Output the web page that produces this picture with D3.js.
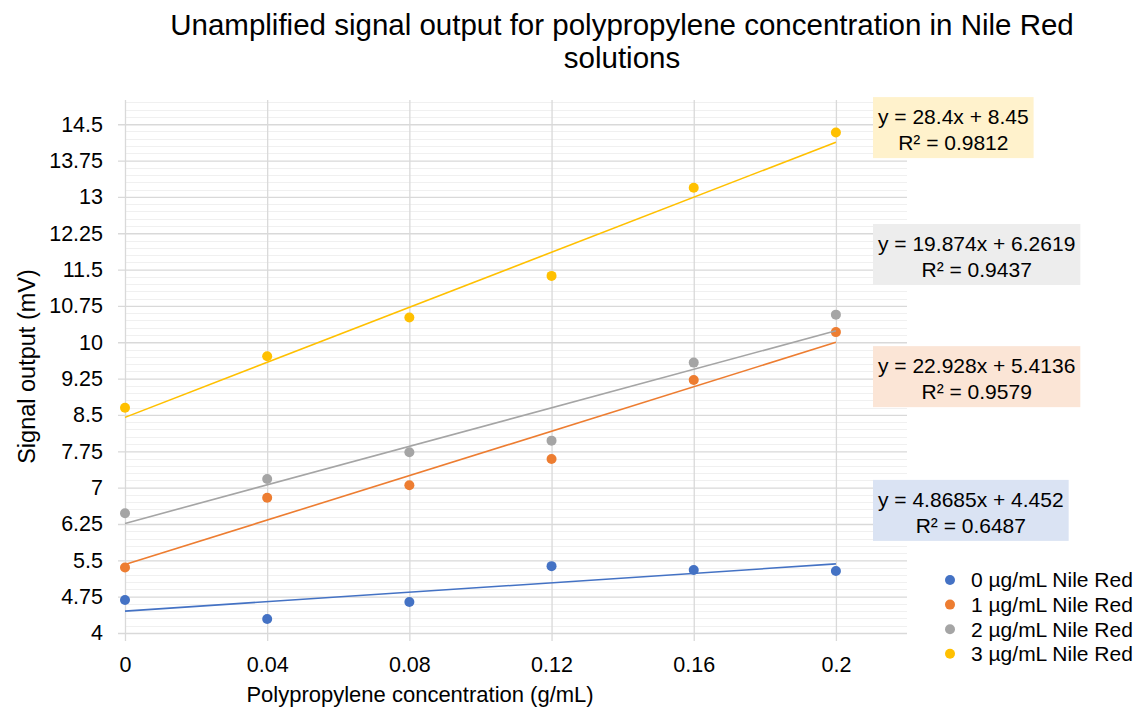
<!DOCTYPE html>
<html>
<head>
<meta charset="utf-8">
<script src="https://cdn.jsdelivr.net/npm/d3@7"></script>
<style>
  body { margin: 0; background: #fff; }
  svg { font-family: 'Liberation Sans', Arial, Helvetica, sans-serif; }
</style>
</head>
<body>
<div id="chart"></div>
<script>
// data
const concentrations = [0, 0.04, 0.08, 0.12, 0.16, 0.2]
const seriesNames = ['0 µg/mL Nile Red', '1 µg/mL Nile Red', '2 µg/mL Nile Red', '3 µg/mL Nile Red']
const nile0 = [4.68, 4.29, 4.64, 5.38, 5.30, 5.28]
const nile1 = [5.35, 6.79, 7.05, 7.59, 9.22, 10.21]
const nile2 = [6.47, 7.18, 7.73, 7.97, 9.58, 10.57]
const nile3 = [8.65, 9.71, 10.51, 11.37, 13.19, 14.33]
const slopes = [4.8685, 22.928, 19.874, 28.4]
const intercepts = [4.452, 5.4136, 6.2619, 8.45]
const eqText = ['y = 4.8685x + 4.452', 'y = 22.928x + 5.4136', 'y = 19.874x + 6.2619', 'y = 28.4x + 8.45']
const r2Text = ['R² = 0.6487', 'R² = 0.9579', 'R² = 0.9437', 'R² = 0.9812']
const yTicks = [4, 4.75, 5.5, 6.25, 7, 7.75, 8.5, 9.25, 10, 10.75, 11.5, 12.25, 13, 13.75, 14.5]
const xTicks = [0, 0.04, 0.08, 0.12, 0.16, 0.2]

const colors = ['#4472C4', '#ED7D31', '#A5A5A5', '#FFC000']
const boxFills = ['#DAE3F3', '#FBE5D6', '#EDEDED', '#FFF2CC']
// top edge of each equation label, in signal units
const labelTop = [7.16, 9.92, 12.44, 15.06]

const W = 1141
const H = 713
const margin = { left: 125, right: 234, top: 100, bottom: 80 }
const gridWidth = W - margin.left - margin.right
const gridHeight = H - margin.top - margin.bottom

const svg = d3.select('#chart')
  .append('svg')
  .attr('width', W)
  .attr('height', H)

const x = d3.scaleLinear().domain([0, 0.22]).range([0, gridWidth])
const y = d3.scaleLinear().domain([4, 15]).range([gridHeight, 0])

const g = svg.append('g').attr('transform', `translate(${margin.left}, ${margin.top})`)

// minor gridlines
const minor = d3.range(4.15, 15.001, 0.15).filter(v => Math.abs((v - 4) / 0.75 - Math.round((v - 4) / 0.75)) > 0.01)
g.append('g').selectAll('line').data(minor).enter()
  .append('line')
  .attr('x1', 0).attr('x2', gridWidth)
  .attr('y1', d => Math.round(y(d)) + 0.5).attr('y2', d => Math.round(y(d)) + 0.5)
  .style('stroke', '#F0F0F0')
  .style('stroke-width', 1)

// major horizontal grid with ticks on the left
const yAxis = d3.axisLeft(y).tickValues(yTicks).tickSize(-gridWidth - 7).tickPadding(14)
  .tickFormat(d => d3.format('')(d))
const yAxisg = g.append('g').attr('transform', 'translate(-7, 0)').call(yAxis)
yAxisg.select('.domain').remove()
yAxisg.selectAll('.tick line').style('stroke', '#D9D9D9').style('stroke-width', 1.3)
yAxisg.selectAll('.tick text').style('font-size', '21.5px').style('fill', '#000')
  .attr('x', -15)

// vertical grid with ticks below
const xAxis = d3.axisBottom(x).tickValues(xTicks).tickSize(-gridHeight - 8).tickPadding(16)
  .tickFormat(d => d3.format('')(d))
const xAxisg = g.append('g').attr('transform', `translate(0, ${gridHeight + 8})`).call(xAxis)
xAxisg.select('.domain').remove()
xAxisg.selectAll('.tick line').style('stroke', '#D9D9D9').style('stroke-width', 1.3)
xAxisg.selectAll('.tick text').style('font-size', '21.5px').style('fill', '#000')

// series
const series = [nile0, nile1, nile2, nile3].map((vals, i) => ({
  name: seriesNames[i],
  color: colors[i],
  slope: slopes[i],
  intercept: intercepts[i],
  points: vals.map((v, j) => ({ cx: concentrations[j], cy: v }))
}))

const line = d3.line().x(d => x(d[0])).y(d => y(d[1]))

const sg = g.selectAll('g.series').data(series).enter()
  .append('g').classed('series', true)

sg.append('path')
  .attr('d', d => line([0, 0.2].map(c => [c, d.intercept + d.slope * c])))
  .style('fill', 'none')
  .style('stroke', d => d.color)
  .style('stroke-width', 1.6)

sg.selectAll('circle').data(d => d.points.map(p => ({ ...p, color: d.color }))).enter()
  .append('circle')
  .attr('cx', d => x(d.cx))
  .attr('cy', d => y(d.cy))
  .attr('r', 5)
  .style('fill', d => d.color)

// equation labels
const eqg = g.selectAll('g.eq').data(series).enter()
  .append('g').classed('eq', true)
  .attr('transform', (d, i) => `translate(${gridWidth - 34}, ${y(labelTop[i])})`)

eqg.each(function (d, i) {
  const el = d3.select(this)
  const rect = el.append('rect').style('fill', boxFills[i])
  const t1 = el.append('text').text(eqText[i]).attr('y', 27)
    .style('font-size', '21px').attr('text-anchor', 'middle')
  const t2 = el.append('text').text(r2Text[i]).attr('y', 53)
    .style('font-size', '21px').attr('text-anchor', 'middle')
  const w = Math.max(t1.node().getComputedTextLength(), t2.node().getComputedTextLength()) + 10
  t1.attr('x', w / 2)
  t2.attr('x', w / 2)
  rect.attr('width', w).attr('height', 61)
})

// title
svg.append('text')
  .attr('x', 622).attr('y', 35)
  .attr('text-anchor', 'middle')
  .style('font-size', '29.5px')
  .text('Unamplified signal output for polypropylene concentration in Nile Red')
svg.append('text')
  .attr('x', 622).attr('y', 68)
  .attr('text-anchor', 'middle')
  .style('font-size', '29.5px')
  .text('solutions')

// axis titles
svg.append('text')
  .attr('x', margin.left + x(0.083)).attr('y', 702)
  .attr('text-anchor', 'middle')
  .style('font-size', '22px')
  .text('Polypropylene concentration (g/mL)')

svg.append('text')
  .attr('transform', `translate(35, ${margin.top + y(9.5)}) rotate(-90)`)
  .attr('text-anchor', 'middle')
  .style('font-size', '23.5px')
  .text('Signal output (mV)')

// legend
const legend = svg.append('g').attr('transform', 'translate(950, 580)')
const li = legend.selectAll('g').data(series).enter()
  .append('g')
  .attr('transform', (d, i) => `translate(0, ${i * 24.6})`)
li.append('circle').attr('r', 5).style('fill', d => d.color)
li.append('text').attr('x', 21).attr('dy', '0.35em')
  .style('font-size', '21px')
  .text(d => d.name)
</script>
</body>
</html>
